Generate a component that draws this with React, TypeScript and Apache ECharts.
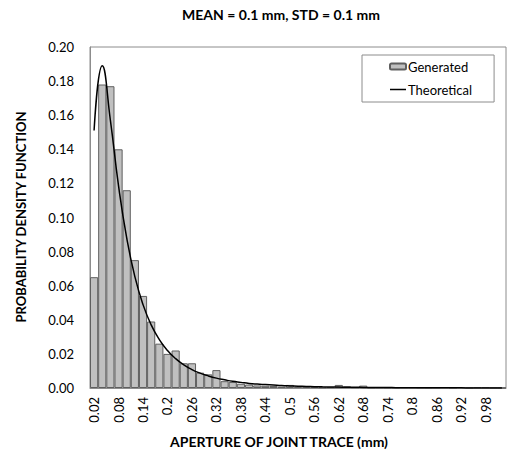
import React, { useEffect, useRef } from "react";
import * as echarts from "echarts";

const categories = [
  "0.02", "0.04", "0.06", "0.08", "0.1", "0.12", "0.14", "0.16", "0.18", "0.2",
  "0.22", "0.24", "0.26", "0.28", "0.3", "0.32", "0.34", "0.36", "0.38", "0.4",
  "0.42", "0.44", "0.46", "0.48", "0.5", "0.52", "0.54", "0.56", "0.58", "0.6",
  "0.62", "0.64", "0.66", "0.68", "0.7", "0.72", "0.74", "0.76", "0.78", "0.8",
  "0.82", "0.84", "0.86", "0.88", "0.9", "0.92", "0.94", "0.96", "0.98", "1",
  "1.02",
];

const generated = [
  0.065, 0.178, 0.177, 0.140, 0.116, 0.075, 0.054, 0.039, 0.026, 0.020,
  0.022, 0.0145, 0.0145, 0.009, 0.008, 0.0105, 0.004, 0.0035, 0.0025, 0.002,
  0.0015, 0.0013, 0.0012, 0.0008, 0.0018, 0.0008, 0.0006, 0.0008, 0.0004, 0.0005,
  0.0018, 0.001, 0.0004, 0.0014, 0.0002, 0.0003, 0.0002, 0.0002, 0.0004, 0.0004,
  0.0002, 0.0001, 0.0002, 0.0004, 0.0001, 0.0004, 0.0001, 0.0004, 0.0004, 0.0001,
  0.0001,
];

const theoretical = [
  0.151, 0.189, 0.157, 0.1185, 0.088, 0.0653, 0.0489, 0.037, 0.0284, 0.022,
  0.0172, 0.0136, 0.0108, 0.0087, 0.0071, 0.0058, 0.0048, 0.0039, 0.0033, 0.0027,
  0.0023, 0.002, 0.0017, 0.0014, 0.0012, 0.00104, 0.0009, 0.00078, 0.00068, 0.0006,
  0.00052, 0.00046, 0.0004, 0.00035, 0.00031, 0.00027, 0.00024, 0.00021, 0.00019, 0.00017,
  0.00015, 0.00013, 0.00012, 0.0001, 0.00009, 0.00008, 0.00007, 0.00007, 0.00006, 0.00005,
  0.00005,
];

const titleText = "MEAN = 0.1 mm, STD = 0.1 mm";
const xName = "APERTURE OF JOINT TRACE (mm)";
const yName = "PROBABILITY DENSITY FUNCTION";

const FONT = "Lato";

export default function App() {
  const ref = useRef<HTMLDivElement>(null);
  useEffect(() => {
    const chart = echarts.init(ref.current!, undefined, { renderer: "svg" });
    chart.setOption({
      animation: false,
      backgroundColor: "#ffffff",
      textStyle: { fontFamily: FONT },
      grid: {
        left: 90,
        right: 2,
        top: 47,
        bottom: 66,
        show: true,
        borderColor: "#8c8c8c",
        borderWidth: 1,
      },
      graphic: [
        {
          type: "text",
          x: 281,
          y: 14,
          style: {
            text: titleText,
            font: `bold 14px ${FONT}`,
            fill: "#000",
            align: "center",
            verticalAlign: "middle",
          },
        },
        {
          type: "text",
          x: 279,
          y: 441,
          style: {
            text: xName,
            font: `bold 14px ${FONT}`,
            fill: "#000",
            align: "center",
            verticalAlign: "middle",
          },
        },
        {
          type: "text",
          x: 21,
          y: 217,
          rotation: Math.PI / 2,
          style: {
            text: yName,
            font: `bold 13px ${FONT}`,
            fill: "#000",
            align: "center",
            verticalAlign: "middle",
          },
        },
      ],
      legend: {
        orient: "vertical",
        left: 362,
        top: 55,
        width: 135,
        padding: [5, 22, 6, 27],
        itemGap: 10,
        itemWidth: 16,
        itemHeight: 6,
        borderColor: "#8c8c8c",
        borderWidth: 1,
        backgroundColor: "#fff",
        textStyle: { fontFamily: FONT, fontSize: 13, color: "#000", padding: [0, 0, 0, -3] },
        data: [
          { name: "Generated" },
          { name: "Theoretical", icon: "path://M0 0 L16 0 L16 1.5 L0 1.5 Z" },
        ],
      },
      xAxis: {
        type: "category",
        data: categories,
        boundaryGap: true,
        axisLine: { show: true, lineStyle: { color: "#8c8c8c", width: 1 } },
        axisTick: { show: false },
        axisLabel: {
          interval: 2,
          rotate: 90,
          margin: 9,
          fontFamily: FONT,
          fontSize: 13,
          color: "#000",
        },
        splitLine: { show: false },
      },
      yAxis: {
        type: "value",
        min: 0,
        max: 0.2,
        interval: 0.02,
        axisLine: { show: true, lineStyle: { color: "#8c8c8c" } },
        axisTick: { show: false },
        splitLine: { show: false },
        axisLabel: {
          margin: 16,
          fontFamily: FONT,
          fontSize: 13,
          color: "#000",
          formatter: (v: number) => v.toFixed(2),
        },
      },
      series: [
        {
          name: "Generated",
          type: "bar",
          data: generated,
          barCategoryGap: "0%",
          itemStyle: { color: "#c0c0c0", borderColor: "#5f5f5f", borderWidth: 1 },
        },
        {
          name: "Theoretical",
          type: "line",
          data: theoretical,
          smooth: true,
          symbol: "none",
          lineStyle: { color: "#000", width: 1.5 },
          itemStyle: { color: "#000" },
        },
      ],
    });
    return () => chart.dispose();
  }, []);
  return (
    <div
      ref={ref}
      style={{ position: "absolute", left: 0, top: 0, width: 508, height: 454 }}
    />
  );
}
